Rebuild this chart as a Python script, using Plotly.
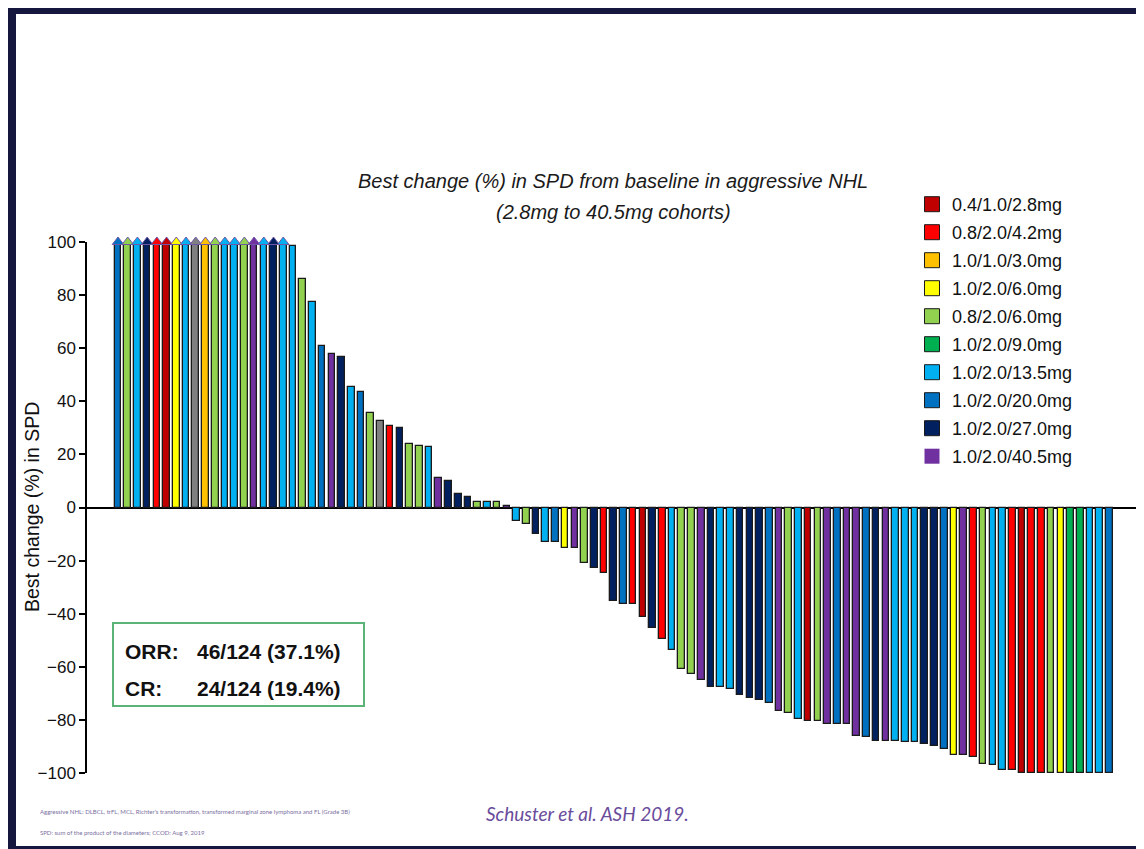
import plotly.graph_objects as go

# ---------------- data ----------------
cohort_keys = ["DR", "R", "O", "Y", "LG", "G", "LB", "B", "N", "P"]
cohort_labels = ["0.4/1.0/2.8mg", "0.8/2.0/4.2mg", "1.0/1.0/3.0mg", "1.0/2.0/6.0mg",
                 "0.8/2.0/6.0mg", "1.0/2.0/9.0mg", "1.0/2.0/13.5mg", "1.0/2.0/20.0mg",
                 "1.0/2.0/27.0mg", "1.0/2.0/40.5mg"]
cohort_colors = ["#C00000", "#FF0000", "#FFC000", "#FFFF00", "#92D050", "#00B050",
                 "#00B0F0", "#0070C0", "#002060", "#7030A0"]
other_key = "GR"
other_color = "#808080"

best_change = [
    99, 99, 99, 99, 99, 99, 99, 99, 99, 99, 99, 99, 99, 99, 99, 99, 99, 99,
    98.6, 85.9, 77.5, 60.8, 57.7, 56.5, 45.4, 43.5, 35.6, 32.6, 30.7, 30.1,
    24.0, 23.3, 22.8, 11.1, 9.9, 4.9, 3.8, 1.9, 1.9, 1.9, 0.75,
    -5.0, -6.3, -10.1, -12.9, -12.9, -15.4, -15.4, -21.0, -22.9, -24.8,
    -35.2, -36.2, -36.2, -41.2, -45.5, -49.7, -53.6, -60.8, -62.6, -65.0, -67.7,
    -67.7, -68.2, -70.8, -71.9, -72.6, -73.7, -76.8, -77.5, -79.8, -80.5,
    -80.5, -81.7, -81.7, -81.7, -85.9, -86.5, -88.0, -88.0, -88.0,
    -88.4, -88.4, -89.1, -89.7, -90.8, -93.3, -93.3, -94.0, -96.5, -97.0,
    -98.9, -98.9, -100, -100, -100, -100, -100, -100, -100, -100, -100, -100,
]
cohort = [
    "B", "LG", "LB", "N", "R", "DR", "Y", "LB", "GR", "O", "LG", "LB", "LB", "LG", "P", "LB", "N", "LB",
    "LB", "LG", "LB", "B", "P", "N", "LB", "B", "LG", "GR", "R", "N",
    "LG", "LG", "LB", "P", "N", "N", "N", "LG", "LB", "LG", "P",
    "LB", "LG", "N", "LB", "B", "Y", "P", "LG", "N", "R",
    "N", "B", "R", "DR", "N", "R", "LB", "LG", "LG", "P", "N",
    "LB", "LB", "N", "N", "N", "B", "P", "LG", "LB", "DR",
    "LG", "P", "B", "P", "P", "B", "N", "P", "LB",
    "LB", "LB", "N", "N", "B", "Y", "P", "R", "LG", "LB",
    "LB", "R", "DR", "R", "R", "LG", "Y", "G", "G", "LB", "LB", "B",
]
# first 18 patients exceed +100% (truncated, shown with arrows)
exceeds_100 = [True] * 18 + [False] * (len(best_change) - 18)

cap_value = 100

# ---------------- layout helpers ----------------
# page is offset by the 8px body margin; figure coordinates = page - 8
OFF = 8
W, H = 1144 - OFF, 849 - OFF
L, R, T, B = 87, 1144, 242, 773  # plot area in page pixels


def px_x(p):
    return (p - L) / (R - L)


def px_y(p):
    return (B - p) / (B - T)


pitch = 9.72
x0_px = 118
x_range = [(L - x0_px) / pitch, (R - x0_px) / pitch]

color_of = dict(zip(cohort_keys, cohort_colors))
color_of[other_key] = other_color

fig = go.Figure()

idx = list(range(len(best_change)))

# bars, one trace per cohort
for key, label, col in zip(cohort_keys + [other_key], cohort_labels + ["other"],
                           cohort_colors + [other_color]):
    xs = [i for i in idx if cohort[i] == key]
    ys = [best_change[i] for i in xs]
    if not xs:
        continue
    fig.add_trace(go.Bar(
        x=xs, y=ys, width=0.68,
        marker=dict(color=col, line=dict(color="#1a1a1a", width=1.3)),
        name=label, legendgroup=key, showlegend=False,
        hovertemplate="Patient %{x}<br>%{y}%<extra>" + label + "</extra>",
    ))
    if key != other_key:
        fig.add_trace(go.Scatter(
            x=[None], y=[None], mode="markers", name=label, legendgroup=key,
            marker=dict(symbol="square", size=15, color=col,
                        line=dict(color="#1a1a1a", width=1 if key != "P" else 0)),
            showlegend=True,
        ))

# arrows on truncated bars
ax = [i for i in idx if exceeds_100[i]]
fig.add_trace(go.Scatter(
    x=ax, y=[cap_value] * len(ax), mode="markers", showlegend=False,
    marker=dict(symbol="triangle-up", size=10,
                color=[color_of[cohort[i]] for i in ax],
                line=dict(color="#6F56A8", width=1)),
    cliponaxis=False, hoverinfo="skip",
))

shapes = [
    # slide border
    dict(type="rect", xref="paper", yref="paper",
         x0=px_x(12), x1=px_x(1180), y0=px_y(10), y1=px_y(850),
         line=dict(color="#15173F", width=8), fillcolor="rgba(0,0,0,0)", layer="above"),
    # ORR box
    dict(type="rect", xref="paper", yref="paper",
         x0=px_x(113), x1=px_x(364), y0=px_y(623), y1=px_y(706),
         line=dict(color="#5CB377", width=2), fillcolor="white", layer="above"),
]

ann = []


def add_text(text, x, y, size, color="#111111", family="Arial", xanchor="center", angle=0):
    ann.append(dict(text=text, x=px_x(x), y=px_y(y), xref="paper", yref="paper",
                    xanchor=xanchor, yanchor="middle", showarrow=False, textangle=angle,
                    font=dict(family=family, size=size, color=color)))


add_text("<i>Best change (%) in SPD from baseline in aggressive NHL</i>", 613, 181, 20, "#1a1a1a")
add_text("<i>(2.8mg to 40.5mg cohorts)</i>", 613, 212, 20, "#1a1a1a")
add_text("Best change (%) in SPD", 32, 507, 19.5, angle=-90)
for lab, val, yy in [("ORR:", "46/124 (37.1%)", 651), ("CR:", "24/124 (19.4%)", 688)]:
    add_text("<b>" + lab + "</b>", 123, yy, 21, xanchor="left")
    add_text("<b>" + val + "</b>", 195, yy, 21, xanchor="left")
add_text("<i>Schuster et al. ASH 2019.</i>", 587, 813, 19, "#6A4C9C", family="Lato")
add_text("Aggressive NHL: DLBCL, trFL, MCL, Richter\u2019s transformation, transformed marginal zone lymphoma and FL (Grade 3B)",
         38, 811, 6, "#7A6FA0", family="Lato", xanchor="left")
add_text("SPD: sum of the product of the diameters; CCOD: Aug 9, 2019",
         38, 832, 6, "#7A6FA0", family="Lato", xanchor="left")

fig.update_layout(
    width=W, height=H,
    margin=dict(l=L - OFF, r=0, t=T - OFF, b=H - (B - OFF), autoexpand=False),
    paper_bgcolor="white", plot_bgcolor="white",
    barmode="overlay", bargap=0,
    showlegend=True,
    legend=dict(x=px_x(912), y=px_y(186), xanchor="left", yanchor="top",
                font=dict(family="Arial", size=18, color="#111111"),
                tracegroupgap=1.6, bgcolor="rgba(0,0,0,0)", itemsizing="trace"),
    shapes=shapes, annotations=ann,
    xaxis=dict(range=x_range, showline=False, showgrid=False, zeroline=False,
               showticklabels=False, ticks=""),
    yaxis=dict(range=[-100, 100], tickvals=list(range(-100, 101, 20)),
               showline=True, linecolor="black", linewidth=1.5,
               ticks="outside", ticklen=6, tickwidth=1.5, tickcolor="black",
               showgrid=False, zeroline=True, zerolinecolor="black", zerolinewidth=1.5,
               tickfont=dict(family="Arial", size=17, color="#111111")),
)

fig.write_html("out.html")
